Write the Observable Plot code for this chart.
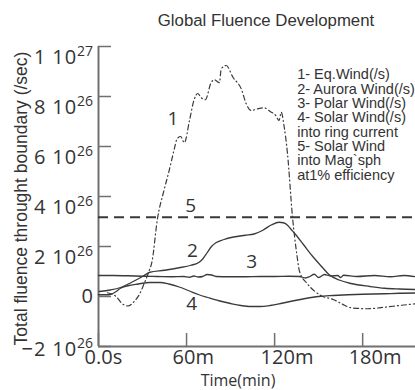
<!DOCTYPE html>
<html><head><meta charset="utf-8">
<script src="https://cdn.jsdelivr.net/npm/d3@7"></script>
<script src="https://cdn.jsdelivr.net/npm/@observablehq/plot@0.6"></script>
<style>
body{margin:0;background:#fff;}
#title{height:30px;box-sizing:border-box;padding-left:117px;padding-top:12px;line-height:18px;text-align:center;font-size:16.8px;font-family:"Liberation Sans",Arial,sans-serif;color:#333;white-space:nowrap;}
#chart svg{display:block;}
</style></head><body>
<div id="title"></div><div id="chart"></div>
<script>
const title = "Global Fluence Development";
const yLabel = "Total fluence throught boundary (/sec)";
const xLabel = "Time(min)";
const legendLines = ["1- Eq.Wind(/s)","2- Aurora Wind(/s)","3- Polar Wind(/s)","4- Solar Wind(/s)","into ring current","5- Solar Wind","into Mag`sph","at1% efficiency"];

const xDomain = [0, 216];
const yDomain = [-2, 10];
const xTicks = [0, 60, 120, 180];
const xTickLabels = ["0.0s", "60m", "120m", "180m"];
const yTicks = [-2, 0, 2, 4, 6, 8, 10];
const yTickMantissa = ["\u22122", "0", "2", "4", "6", "8", "1"];
const yTickExponent = ["26", "", "26", "26", "26", "26", "27"];

// values in units of 1e26 /sec, time in minutes
const eqWindT = [6,12,16,20,24,28,31,34,36.6,40,44.6,48,51.4,53.5,56,58.5,62,65.3,67.6,70,72.8,76.7,79,82.4,83.6,87,91.6,97.3,100.7,104,108,112.8,117,120.8,123,124.5,126.5,128.8,132.2,135,137,142.5,151.5,160.4,166,172,183.4,194.5,205,216];
const eqWindV = [0.15,0.0,-0.28,-0.38,-0.22,0.1,0.5,0.95,1.44,3.04,4.24,5.0,5.84,6.3,6.4,6.15,7.04,7.9,8.12,7.95,7.87,8.55,8.67,8.55,9.1,9.24,8.77,8.3,7.7,7.44,7.5,7.55,7.4,7.24,7.04,7.37,6.8,5.7,3.17,1.75,1.0,0.5,0.04,-0.13,-0.3,-0.45,-0.49,-0.43,-0.36,-0.29];

const auroraT = [0.5,8,15,22,30,35,45,55,63,68,71,74,77,80,85,92,100,106,112,118,123,126,129,131,134,140,146,152,157,164,172,185,195,205,216];
const auroraV = [0.2,0.26,0.36,0.55,0.8,0.97,1.05,1.15,1.25,1.35,1.5,1.75,2.0,2.15,2.27,2.38,2.45,2.5,2.65,2.87,2.97,2.95,2.84,2.7,2.5,2.05,1.6,1.2,0.88,0.66,0.52,0.4,0.33,0.3,0.28];

const polarT = [0,10,20,30,40,50,58,62,65,68,71,74,77,80,90,100,110,120,130,137,141,144,147,150,154,158,163,165,167,176,188,199,208,216];
const polarV = [0.84,0.84,0.83,0.81,0.8,0.79,0.8,0.77,0.82,0.78,0.8,0.88,0.86,0.8,0.79,0.79,0.8,0.8,0.81,0.8,0.74,0.8,0.89,0.76,0.88,0.82,0.84,0.76,0.85,0.8,0.84,0.79,0.84,0.79];

const ringT = [0,7,12,15,20,27,35,42,48,55,62,68,75,82,90,97,104,110,117,125,133,141,150,160,170,180,195,205,216];
const ringV = [0.07,0.07,0.2,0.33,0.43,0.5,0.56,0.56,0.5,0.38,0.22,0.08,-0.05,-0.17,-0.28,-0.36,-0.4,-0.4,-0.36,-0.27,-0.17,-0.08,0.0,0.04,0.07,0.09,0.11,0.13,0.14];

const solarMagV = 3.17;

const curveLabels = ["1","2","3","4","5"];
const curveLabelT = [50.8, 64, 104.4, 63.5, 62.8];
const curveLabelV = [7.1, 1.81, 1.37, -0.29, 3.61];

const toRows = (T, V) => T.map((t, i) => ({t, v: V[i]}));
const lineColor = "#3a3a3a";
const axisColor = "#707070";
const tickFont = "'Open Sans', 'DejaVu Sans', sans-serif";
const arial = "'Liberation Sans', Arial, sans-serif";
const tenText = " 10";

document.getElementById("title").textContent = title;

const chart = Plot.plot({
  width: 415,
  height: 360,
  marginTop: 16,
  marginBottom: 44,
  marginLeft: 98,
  marginRight: 0,
  style: {background: "#fff", color: "#333", fontFamily: tickFont},
  x: {domain: xDomain, axis: null},
  y: {domain: yDomain, axis: null},
  marks: [
    Plot.axisY({ticks: yTicks, tickSize: -13, tickPadding: 18.5, stroke: axisColor, strokeWidth: 1.5, fill: "#333", fontSize: 20,
      tickFormat: d => { const i = yTicks.indexOf(d); return yTickMantissa[i] + (yTickExponent[i] ? tenText : ""); }, label: null}),
    Plot.axisX({ticks: xTicks, tickSize: -13, stroke: axisColor, strokeWidth: 1.5, fill: "none", label: null}),
    Plot.axisX({ticks: xTicks, tickSize: 0, tickPadding: 3, textAnchor: "start", dx: -14, fill: "#333", fontSize: 20,
      tickFormat: d => xTickLabels[xTicks.indexOf(d)], label: null}),
    Plot.ruleX([xDomain[0]], {stroke: axisColor, strokeWidth: 2}),
    Plot.ruleY([yDomain[0]], {stroke: axisColor, strokeWidth: 2}),
    Plot.ruleY([solarMagV], {stroke: lineColor, strokeWidth: 2, strokeDasharray: "10,6"}),
    Plot.line(toRows(polarT, polarV), {x: "t", y: "v", stroke: lineColor, strokeWidth: 1.3, curve: "monotone-x"}),
    Plot.line(toRows(ringT, ringV), {x: "t", y: "v", stroke: lineColor, strokeWidth: 1.3, curve: "monotone-x"}),
    Plot.line(toRows(auroraT, auroraV), {x: "t", y: "v", stroke: lineColor, strokeWidth: 1.3, curve: "monotone-x"}),
    Plot.line(toRows(eqWindT, eqWindV), {x: "t", y: "v", stroke: lineColor, strokeWidth: 1.2, strokeDasharray: "5,3,1,3", curve: "monotone-x"}),
    Plot.text(curveLabels, {x: (d, i) => curveLabelT[i], y: (d, i) => curveLabelV[i], text: d => d, fontSize: 19, fill: "#333", fontFamily: tickFont}),
    Plot.text([legendLines.join("\n")], {frameAnchor: "top-left", dx: 198.7, dy: 22.8, textAnchor: "start", lineAnchor: "top", lineHeight: 0.986, fontSize: 14.5, fontFamily: arial, fill: "#333"}),
    Plot.text([yLabel], {frameAnchor: "left", textAnchor: "middle", lineAnchor: "middle", rotate: -90, dx: -77.5, dy: 2, fontSize: 17.5, fontFamily: arial, fill: "#333"}),
    Plot.text([xLabel], {frameAnchor: "bottom", textAnchor: "middle", lineAnchor: "middle", dx: -19, dy: 34, fontSize: 16, fontFamily: tickFont, fill: "#333"})
  ]
});
document.getElementById("chart").appendChild(chart);

// superscript exponents on y tick labels
d3.select(chart).selectAll('g[aria-label="y-axis tick label"] text').each(function() {
  const el = d3.select(this);
  const txt = el.text();
  const i = yTickMantissa.findIndex((m, k) => (m + (yTickExponent[k] ? tenText : "")) === txt);
  if (i >= 0 && yTickExponent[i]) {
    el.attr("dy", i === 0 ? "0.15em" : "0.55em").text(null);
    el.append("tspan").attr("letter-spacing", "0.9px").text(yTickMantissa[i] + tenText);
    el.append("tspan").attr("dy", "-8.4").attr("font-size", 14).attr("letter-spacing", "0px").text(yTickExponent[i]);
  }
});
</script>
</body></html>
